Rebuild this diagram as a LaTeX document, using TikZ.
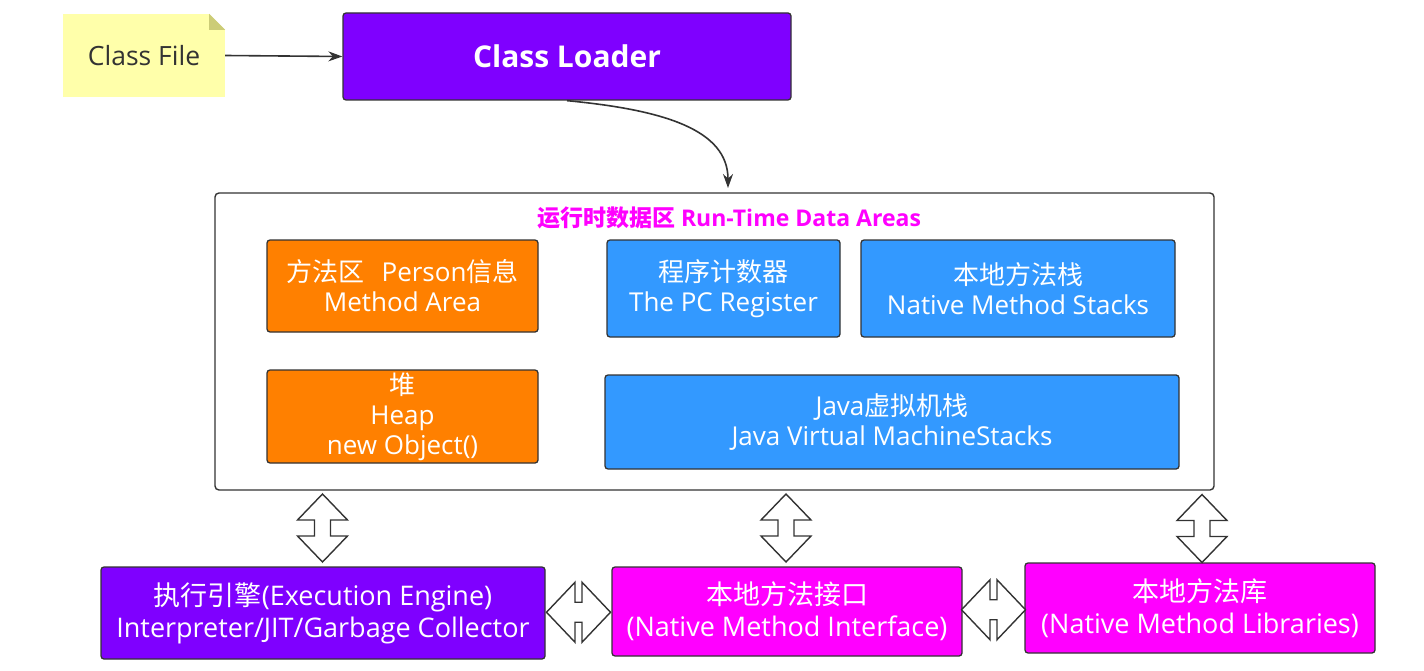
\documentclass[tikz,border=0pt]{standalone}
\usepackage{fontspec}
\setmainfont{Open Sans}
\newfontfamily\cjk{Noto Sans CJK SC}
\usetikzlibrary{arrows.meta,calc}
\definecolor{purp}{HTML}{7F00FF}
\definecolor{magen}{HTML}{FF00FF}
\definecolor{orng}{HTML}{FF8000}
\definecolor{blu}{HTML}{3399FF}
\definecolor{bord}{HTML}{333333}
\definecolor{notey}{HTML}{FFFFAA}
\definecolor{foldy}{HTML}{CCCC77}
\tikzset{
  box/.style={draw=bord, line width=1.3pt, rounded corners=3pt, text=white, align=center, inner sep=0pt},
  boxtxt/.style={font=\fontsize{26}{30}\selectfont},
  bottxt/.style={font=\fontsize{27}{32}\selectfont},
  conn/.style={draw=bord, line width=1.6pt, -{Stealth[length=14pt,width=10pt]}},
  dbl/.style={draw=bord, line width=1.4pt, fill=white, line join=miter},
  dblv/.pic={\draw[dbl] (0,-34) -- (25,-8) -- (8,-8) -- (8,8) -- (25,8) -- (0,34) -- (-25,8) -- (-8,8) -- (-8,-8) -- (-25,-8) -- cycle;},
  dblh/.pic={\draw[dbl] (-32,0) -- (-3.5,-30) -- (-3.5,-10) -- (3.5,-10) -- (3.5,-30) -- (32,0) -- (3.5,30) -- (3.5,10) -- (-3.5,10) -- (-3.5,30) -- cycle;}
}
\begin{document}
\begin{tikzpicture}[x=1pt,y=-1pt]
\useasboundingbox (0,0) rectangle (1424,671);
% Class File note
\node[fill=notey, minimum width=162pt, minimum height=83pt, inner sep=0pt, text=bord, font=\fontsize{26.5}{30}\selectfont] (cf) at (144,55.5) {\raisebox{-2pt}{Class File}};
\fill[white] (cf.north east) ++(-16,0) -- ++(16,0) -- ++(0,16) -- cycle;
\fill[foldy] (cf.north east) ++(-16,0) -- ++(0,16) -- ++(16,0) -- cycle;
% Class Loader
\node[box, fill=purp, minimum width=448pt, minimum height=87pt, font=\bfseries\fontsize{30}{36}\selectfont] (loader) at (567,56.5) {Class Loader};
\draw[conn] (cf.east) -- (loader.west);
% Run-time data areas
\node[draw=bord, line width=1.4pt, rounded corners=4pt, minimum width=999pt, minimum height=297pt, inner sep=0pt] (rtda) at (714.5,341.5) {};
\coordinate (rtin) at (728,188);
\draw[conn] (loader.south) .. controls (665,110) and (728,130) .. (rtin);
\node[text=magen, font=\bfseries\fontsize{23}{26}\selectfont] (rtt) at (729,218) {{\cjk\bfseries 运行时数据区} Run-Time Data Areas};
\node[box, boxtxt, fill=orng, minimum width=271pt, minimum height=92pt] (meth) at (402.5,286) {{\cjk 方法区}\hspace{0.4em} Person{\cjk 信息}\\Method Area};
\node[box, boxtxt, fill=orng, minimum width=271pt, minimum height=93pt] (heap) at (402.5,416.5) {{\cjk 堆}\\Heap\\new Object()};
\node[box, boxtxt, fill=blu, minimum width=233pt, minimum height=97pt] (pc) at (723.5,288.5) {{\cjk 程序计数器}\\The PC Register};
\node[box, boxtxt, fill=blu, minimum width=314pt, minimum height=97pt] (nms) at (1018,288.5) {{\cjk 本地方法栈}\\Native Method Stacks};
\node[box, boxtxt, fill=blu, minimum width=574pt, minimum height=94pt] (jvms) at (892,422) {Java{\cjk 虚拟机栈}\\Java Virtual MachineStacks};
% bottom
\node[box, bottxt, fill=purp, minimum width=444pt, minimum height=92pt] (eng) at (323,613) {{\cjk 执行引擎}(Execution Engine)\\Interpreter/JIT/Garbage Collector};
\node[box, bottxt, fill=magen, minimum width=350pt, minimum height=89pt] (nmi) at (787,611.5) {{\cjk 本地方法接口}\\(Native Method Interface)};
\node[box, bottxt, fill=magen, minimum width=350pt, minimum height=90pt] (nml) at (1200,608) {{\cjk 本地方法库}\\(Native Method Libraries)};
% double arrows
\pic at (322.5,528) {dblv};
\pic at (786,528) {dblv};
\pic at (1202,528.5) {dblv};
\pic at ($(eng.east)!0.5!(nmi.west)$) {dblh};
\pic at ($(nmi.east)!0.5!(nml.west)$) {dblh};
\end{tikzpicture}
\end{document}
